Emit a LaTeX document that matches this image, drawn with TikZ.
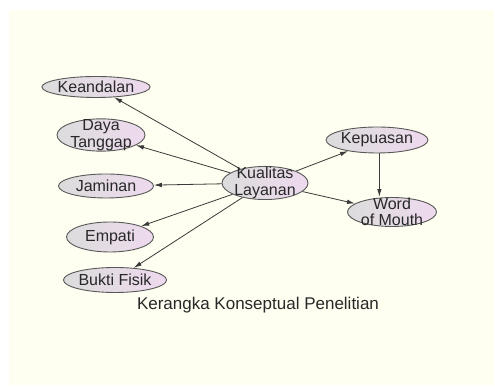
\documentclass[tikz,border=0pt]{standalone}
\usepackage{fontspec}
\setmainfont{Liberation Sans}
\usetikzlibrary{shapes.geometric,arrows.meta}
\definecolor{panel}{HTML}{FEFFF0}
\definecolor{nodeleft}{HTML}{DCDCDC}
\definecolor{noderight}{HTML}{EEDAEE}
\definecolor{edgecol}{HTML}{3A3A3A}
\definecolor{txt}{HTML}{282828}
\tikzset{
  concept/.style={ellipse, draw=edgecol!85, line width=0.9pt, left color=nodeleft, right color=noderight,
    inner sep=0pt, align=center, text=txt, font=\fontsize{16}{16.5}\selectfont},
  twoline/.style={inner sep=-4pt},
  link/.style={draw=edgecol, line width=0.8pt, -{Latex[length=8pt,width=4.5pt]}}
}
\begin{document}
\begin{tikzpicture}[x=1pt,y=1pt]
\useasboundingbox (0,0) rectangle (495,387);
\fill[white] (0,0) rectangle (495,387);
\fill[panel] (9,2) rectangle (494,377);
\node[concept, minimum width=88, minimum height=21] (kea) at (96,300) {Keandalan};
\node[concept, twoline, minimum width=88, minimum height=28] (day) at (101,252) {Daya\\Tanggap};
\node[concept, minimum width=95, minimum height=24] (jam) at (106,201) {Jaminan};
\node[concept, minimum width=87, minimum height=30] (emp) at (110,150) {Empati};
\node[concept, minimum width=86, minimum height=25] (buk) at (115,107) {Bukti Fisik};
\node[concept, twoline, minimum width=86, minimum height=28] (kua) at (265,204) {Kualitas\\Layanan};
\node[concept, minimum width=90, minimum height=26] (kep) at (377,247) {Kepuasan};
\node[concept, twoline, minimum width=89, minimum height=29] (wom) at (392,175) {Word\\of Mouth};
\node[font=\fontsize{17}{20}\selectfont, text=txt] (cap) at (258,82) {Kerangka Konseptual Penelitian};
\draw[link] (kua) -- (kea);
\draw[link] (kua) -- (day);
\draw[link] (kua) -- (jam);
\draw[link] (kua) -- (emp);
\draw[link] (kua) -- (buk);
\draw[link] (kua) -- (kep);
\draw[link] (kua) -- (wom);
\draw[link, line width=1.1pt] (kep.-80) -- (kep.-80 |- wom.north);
\end{tikzpicture}
\end{document}
